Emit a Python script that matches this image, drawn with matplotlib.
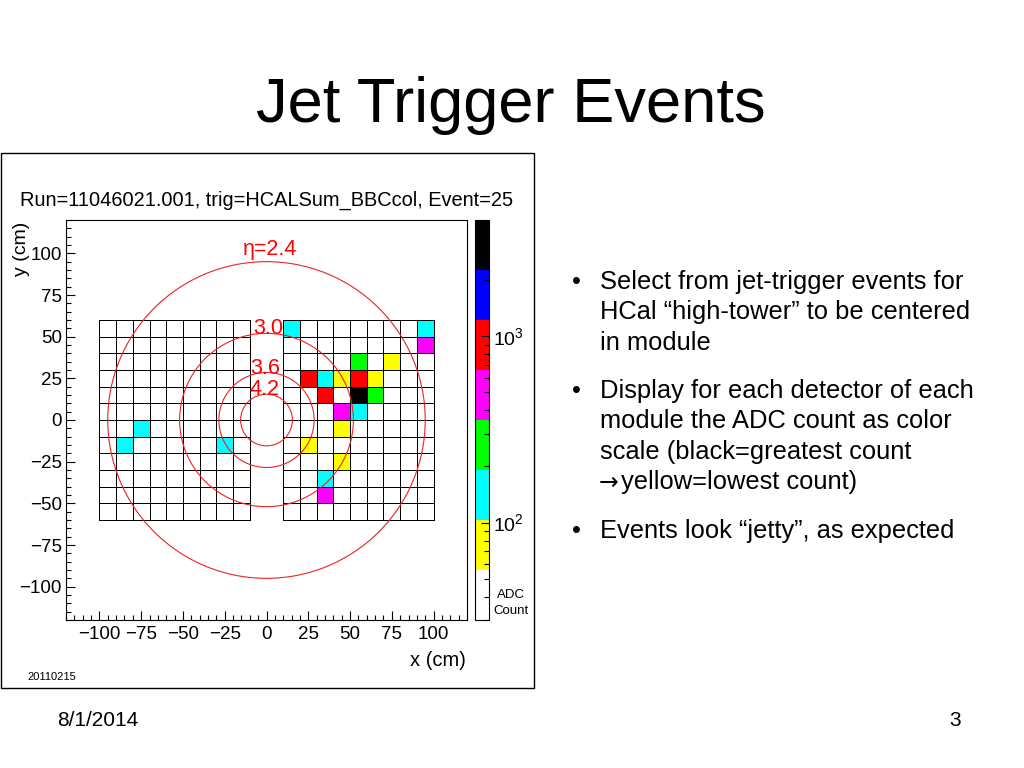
import numpy as np
import matplotlib
matplotlib.use('Agg')
import matplotlib.pyplot as plt
import matplotlib.patches as patches
from matplotlib.colors import ListedColormap, LogNorm
from matplotlib.ticker import LogLocator, NullFormatter, MultipleLocator

plt.rcParams['font.family'] = ['Liberation Sans', 'DejaVu Sans']
plt.rcParams['mathtext.fontset'] = 'custom'
plt.rcParams['mathtext.rm'] = 'Liberation Sans'
plt.rcParams['mathtext.default'] = 'regular'

# towers with a hit: lower-left corner (cm) of the 10x10 cm cell and ADC count
tower_x = [10, 90, 90, 50, 70, 20, 30, 40, 50, 60, 30, 50, 60, 40, 50,
           40, 20, 40, 30, 30, -80, -90, -30]
tower_y = [50, 50, 40, 30, 30, 20, 20, 20, 20, 20, 10, 10, 10, 0, 0,
           -10, -20, -30, -40, -50, -10, -20, -20]
tower_adc = [150, 130, 480, 260, 80, 900, 160, 75, 1000, 70, 850, 3300, 280, 520, 170,
             85, 70, 90, 140, 450, 120, 135, 125]

# pseudorapidity rings
eta_labels = ['η=2.4', '3.0', '3.6', '4.2']
eta_radius = [95, 52, 28.5, 15.5]
eta_label_x = [2, 1, -1, -1]
eta_label_y = [102, 55, 31, 18.5]

palette = ['white', 'yellow', 'cyan', '#00ff00', 'magenta', 'red', 'blue', 'black']
adc_min, adc_max = 30, 4200

axis_ticks = [-100, -75, -50, -25, 0, 25, 50, 75, 100]

run_title = 'Run=11046021.001, trig=HCALSum_BBCcol, Event=25'
slide_title = 'Jet Trigger Events'
bullets = [
    ['Select from jet-trigger events for',
     'HCal \u201chigh-tower\u201d to be centered',
     'in module'],
    ['Display for each detector of each',
     'module the ADC count as color',
     'scale (black=greatest count',
     '\u2192yellow=lowest count)'],
    ['Events look \u201cjetty\u201d, as expected'],
]
bullet_baseline = [289, 398, 538]

W, H = 1024, 768


def px(x, y):
    # pixel position on the slide -> figure fraction
    return x / W, 1 - y / H


# cell edges of the two modules
left_edges = np.arange(-100, -9, 10)
right_edges = np.arange(10, 101, 10)
y_edges = np.arange(-60, 61, 10)

left = np.full((len(y_edges) - 1, len(left_edges) - 1), 1.0)
right = np.full((len(y_edges) - 1, len(right_edges) - 1), 1.0)
for x, y, a in zip(tower_x, tower_y, tower_adc):
    row = (y + 60) // 10
    if x < 0:
        left[row, (x + 100) // 10] = a
    else:
        right[row, (x - 10) // 10] = a

cmap = ListedColormap(palette)
cmap.set_under('white')
norm = LogNorm(vmin=adc_min, vmax=adc_max)

fig = plt.figure(figsize=(W / 100, H / 100), dpi=100)

# ROOT canvas frame
fig.patches.append(patches.Rectangle(px(0.5, 688), 533.5 / W, 535 / H, fill=False,
                                     edgecolor='black', lw=1, transform=fig.transFigure))

ax = fig.add_axes([66 / W, 1 - 620 / H, 401 / W, 400 / H])
mesh = ax.pcolormesh(left_edges, y_edges, left, cmap=cmap, norm=norm,
                     edgecolors='black', linewidth=0.55)
ax.pcolormesh(right_edges, y_edges, right, cmap=cmap, norm=norm,
              edgecolors='black', linewidth=0.55)

for r in eta_radius:
    ax.add_patch(patches.Circle((0, 0), r, fill=False, edgecolor='#ee2222', lw=0.8, zorder=3))
for lab, lx, ly in zip(eta_labels, eta_label_x, eta_label_y):
    ax.text(lx, ly, lab, color='red', ha='center', va='center', fontsize=15.5, zorder=4)

ax.set_xlim(-120, 120)
ax.set_ylim(-120, 120)
ax.set_xticks(axis_ticks)
ax.set_yticks(axis_ticks)
ax.xaxis.set_minor_locator(MultipleLocator(5))
ax.yaxis.set_minor_locator(MultipleLocator(5))
ax.tick_params(which='both', direction='in', width=0.8, labelsize=13.5)
ax.tick_params(which='major', length=6.5)
ax.tick_params(which='minor', length=3.5)
ax.tick_params(axis='x', pad=4)
ax.tick_params(axis='y', pad=3)
for s in ax.spines.values():
    s.set_linewidth(0.8)

# colour scale
cax = fig.add_axes([475 / W, 1 - 620 / H, 14 / W, 400 / H])
cb = fig.colorbar(mesh, cax=cax)
cb.outline.set_linewidth(0.8)
cax.yaxis.set_minor_locator(LogLocator(subs=range(2, 10)))
cax.yaxis.set_minor_formatter(NullFormatter())
cax.tick_params(which='both', direction='in', right=True, width=0.8, labelsize=14, pad=3)
cax.tick_params(which='major', length=6)
cax.tick_params(which='minor', length=3.5)

fig.text(*px(511, 595), 'ADC', ha='center', va='center', fontsize=9.5)
fig.text(*px(511, 611), 'Count', ha='center', va='center', fontsize=9.5)

# ROOT labels
fig.text(*px(20, 206), run_title, ha='left', va='baseline', fontsize=14.4)
fig.text(*px(21, 222), 'y (cm)', rotation=90, ha='center', va='top', fontsize=14)
fig.text(*px(466, 660), 'x (cm)', ha='right', va='center', fontsize=14.5)
fig.text(*px(27, 677), '20110215', ha='left', va='center', fontsize=8)

# slide text
fig.text(*px(511, 122), slide_title, ha='center', va='baseline', fontsize=45.5)
for lines, base in zip(bullets, bullet_baseline):
    fig.text(*px(572, base), '\u2022', ha='left', va='baseline', fontsize=18.4)
    for i, line in enumerate(lines):
        y = base + i * 30.5
        if line.startswith('\u2192'):
            fig.text(*px(599, y), '\u2192', ha='left', va='baseline', fontsize=17,
                     family='DejaVu Sans')
            fig.text(*px(621, y), line[1:], ha='left', va='baseline', fontsize=18.4)
        else:
            fig.text(*px(600, y), line, ha='left', va='baseline', fontsize=18.4)

fig.text(*px(57, 726), '8/1/2014', ha='left', va='baseline', fontsize=15)
fig.text(*px(961, 726), '3', ha='right', va='baseline', fontsize=15)

fig.savefig('out.png', dpi=100)
